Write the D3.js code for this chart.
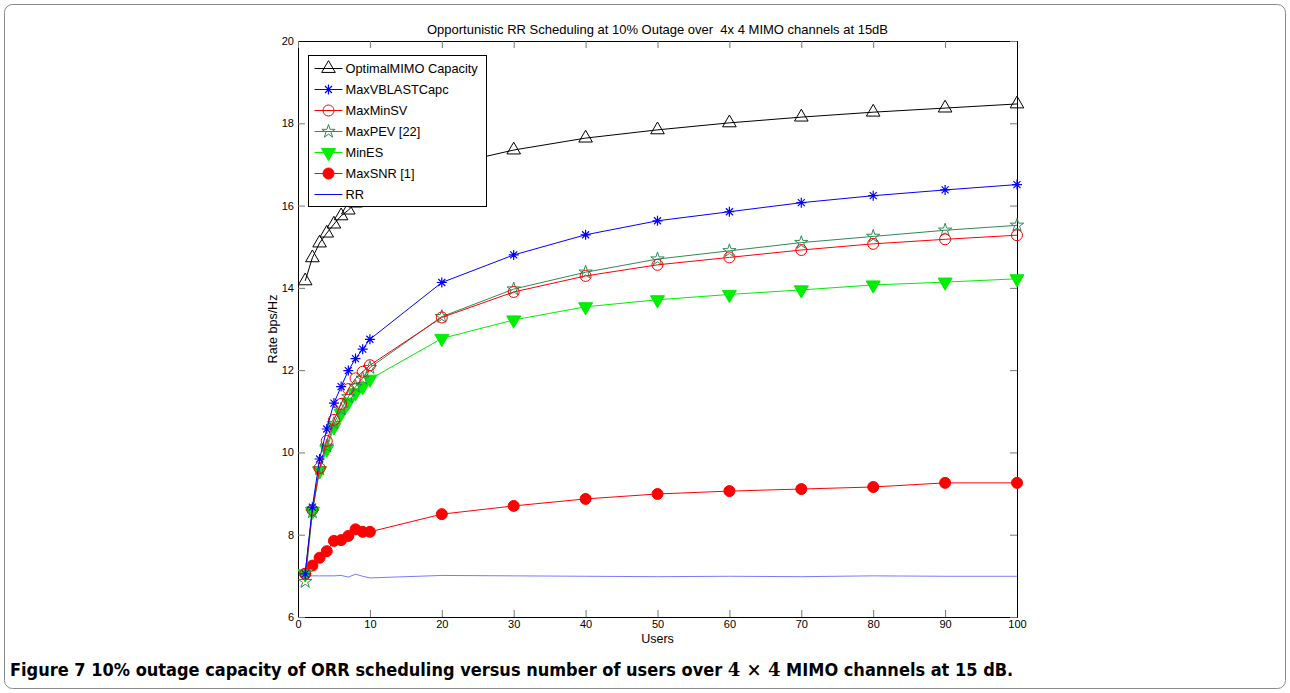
<!DOCTYPE html>
<html>
<head>
<meta charset="utf-8">
<script src="https://cdn.jsdelivr.net/npm/d3@7"></script>
<style>
body{margin:0;background:#fff;}
svg text{font-family:"Liberation Sans",Arial,sans-serif;}
</style>
</head>
<body>
<div id="graph"></div>
<script>
(function(){
"use strict";

// data
var users = [1,2,3,4,5,6,7,8,9,10,20,30,40,50,60,70,80,90,100];
var optimalMIMO = [14.17,14.73,15.09,15.33,15.55,15.75,15.89,16.06,16.18,16.26,16.95,17.35,17.64,17.84,18.01,18.15,18.27,18.37,18.47];
var maxVBLAST = [7.05,8.67,9.84,10.57,11.2,11.6,11.99,12.28,12.51,12.75,14.13,14.8,15.29,15.63,15.85,16.07,16.24,16.38,16.51];
var maxMinSV = [7.05,8.6,9.62,10.28,10.79,11.18,11.54,11.8,11.96,12.12,13.28,13.9,14.29,14.56,14.74,14.92,15.07,15.18,15.28];
var maxPEV = [6.86,8.55,9.6,10.15,10.7,11.05,11.35,11.6,11.8,12.06,13.3,13.97,14.38,14.7,14.9,15.1,15.25,15.4,15.52];
var minES = [7.05,8.57,9.55,10.08,10.62,10.95,11.22,11.45,11.6,11.78,12.77,13.22,13.54,13.71,13.84,13.95,14.07,14.14,14.22];
var maxSNR = [7.05,7.25,7.44,7.6,7.85,7.87,7.97,8.13,8.07,8.07,8.5,8.7,8.87,8.99,9.06,9.11,9.16,9.26,9.26];
var rr = [7.02,7.0,7.0,7.0,7.0,7.01,6.97,7.04,6.99,6.95,7.01,7.0,6.99,6.98,6.99,6.98,7.0,6.99,6.99];
var xTicks = [0,10,20,30,40,50,60,70,80,90,100];
var yTicks = [6,8,10,12,14,16,18,20];

var series = [
  {name:"OptimalMIMO Capacity", values:optimalMIMO, color:"#000000", marker:"triUp"},
  {name:"MaxVBLASTCapc", values:maxVBLAST, color:"#0000ff", marker:"asterisk"},
  {name:"MaxMinSV", values:maxMinSV, color:"#ff0000", marker:"circle"},
  {name:"MaxPEV [22]", values:maxPEV, color:"#2e8b57", marker:"star"},
  {name:"MinES", values:minES, color:"#00ee00", marker:"triDown"},
  {name:"MaxSNR [1]", values:maxSNR, color:"#ff0000", marker:"dot"},
  {name:"RR", values:rr, color:"#0000ff", marker:"none"}
];

var W = 1290, H = 693;
var margin = {top: 41, left: 298, right: 273, bottom: 76};
var width = W - margin.left - margin.right;
var height = H - margin.top - margin.bottom;

var svg = d3.select("#graph").append("svg")
  .attr("width", W)
  .attr("height", H);

// frame around the figure
svg.append("rect")
  .attr("x", 4.5).attr("y", 4.5)
  .attr("width", W - 9).attr("height", H - 9)
  .attr("rx", 8)
  .attr("fill", "none")
  .attr("stroke", "#8a8a8a")
  .attr("stroke-width", 1);

var g = svg.append("g")
  .attr("transform", "translate(" + margin.left + "," + margin.top + ")");

var x = d3.scaleLinear().domain([0, 100]).range([0, width]);
var y = d3.scaleLinear().domain([6, 20]).range([height, 0]);

// matlab style box with inward ticks
var xAxis = d3.axisBottom(x).tickValues(xTicks).tickSize(-7).tickPadding(3);
var yAxis = d3.axisLeft(y).tickValues(yTicks).tickSize(-7).tickPadding(4);
var xTop = d3.axisTop(x).tickValues(xTicks).tickSize(-7).tickFormat("");
var yRight = d3.axisRight(y).tickValues(yTicks).tickSize(-7).tickFormat("");

function styleAxis(sel){
  sel.select(".domain").attr("stroke", "#000");
  sel.selectAll(".tick line").attr("stroke", "#777");
  sel.selectAll("text").attr("fill", "#000").style("font-size", "11px");
}

g.append("g").attr("transform", "translate(0," + height + ")").call(xAxis).call(styleAxis);
g.append("g").call(yAxis).call(styleAxis);
g.append("g").call(xTop).call(styleAxis);
g.append("g").attr("transform", "translate(" + width + ",0)").call(yRight).call(styleAxis);

var line = d3.line()
  .x(function(d){ return x(d[0]); })
  .y(function(d){ return y(d[1]); });

function drawMarker(sel, type, color){
  if (type === "triUp") {
    sel.append("path").attr("d", d3.symbol().type(d3.symbolTriangle).size(80)())
      .attr("fill", "none").attr("stroke", color).attr("stroke-width", 1);
  } else if (type === "triDown") {
    sel.append("path").attr("d", d3.symbol().type(d3.symbolTriangle).size(85)())
      .attr("transform", "rotate(180)")
      .attr("fill", color).attr("stroke", color).attr("stroke-width", 1);
  } else if (type === "circle") {
    sel.append("circle").attr("r", 5.5)
      .attr("fill", "none").attr("stroke", color).attr("stroke-width", 1);
  } else if (type === "dot") {
    sel.append("circle").attr("r", 5.5)
      .attr("fill", color).attr("stroke", color).attr("stroke-width", 1);
  } else if (type === "star") {
    sel.append("path").attr("d", d3.symbol().type(d3.symbolStar).size(55)())
      .attr("fill", "none").attr("stroke", color).attr("stroke-width", 1);
  } else if (type === "asterisk") {
    var r = 5;
    sel.append("path")
      .attr("d", "M" + (-r) + ",0L" + r + ",0M0," + (-r) + "L0," + r +
        "M" + (-r * 0.7) + "," + (-r * 0.7) + "L" + (r * 0.7) + "," + (r * 0.7) +
        "M" + (-r * 0.7) + "," + (r * 0.7) + "L" + (r * 0.7) + "," + (-r * 0.7))
      .attr("stroke", color).attr("stroke-width", 1.2).attr("fill", "none");
  }
}

// draw RR first, underneath
var ordered = series.slice().reverse();
ordered.forEach(function(s){
  var pts = users.map(function(u, i){ return [u, s.values[i]]; });
  g.append("path")
    .datum(pts)
    .attr("d", line)
    .attr("fill", "none")
    .attr("stroke", s.marker === "none" ? "#6a6aff" : s.color)
    .attr("stroke-width", s.marker === "none" ? 0.9 : 1);
  if (s.marker !== "none") {
    g.selectAll(null)
      .data(pts)
      .enter()
      .append("g")
        .attr("transform", function(d){ return "translate(" + x(d[0]) + "," + y(d[1]) + ")"; })
        .each(function(){ drawMarker(d3.select(this), s.marker, s.color); });
  }
});

// legend
var leg = svg.append("g").attr("transform", "translate(308.5,55.5)");
leg.append("rect")
  .attr("width", 178).attr("height", 151)
  .attr("fill", "#fff").attr("stroke", "#000").attr("stroke-width", 1);
series.forEach(function(s, i){
  var row = leg.append("g").attr("transform", "translate(0," + (13 + i * 21) + ")");
  row.append("line")
    .attr("x1", 6).attr("x2", 34).attr("y1", 0).attr("y2", 0)
    .attr("stroke", s.color).attr("stroke-width", 1);
  var m = row.append("g").attr("transform", "translate(20,0)");
  drawMarker(m, s.marker, s.color);
  row.append("text")
    .attr("x", 37).attr("y", 4.5)
    .style("font-size", "12.8px")
    .text(s.name);
});

// titles
svg.append("text")
  .attr("x", margin.left + width / 2).attr("y", 34)
  .attr("text-anchor", "middle")
  .style("font-size", "13px")
  .style("white-space", "pre")
  .text("Opportunistic RR Scheduling at 10% Outage over  4x 4 MIMO channels at 15dB");

svg.append("text")
  .attr("x", margin.left + width / 2).attr("y", 643)
  .attr("text-anchor", "middle")
  .style("font-size", "12.5px")
  .text("Users");

svg.append("text")
  .attr("transform", "translate(277," + (margin.top + height / 2) + ") rotate(-90)")
  .attr("text-anchor", "middle")
  .style("font-size", "12.5px")
  .text("Rate bps/Hz");

// caption
var cap = svg.append("text")
  .attr("x", 10).attr("y", 676)
  .style("font-family", "'Liberation Sans Narrow','DejaVu Sans Condensed',sans-serif")
  .style("font-size", "18px")
  .style("font-weight", "bold");
cap.append("tspan").text("Figure 7 ");
cap.append("tspan").text("10% outage capacity of ORR scheduling versus number of users over ");
cap.append("tspan").style("font-family", "'DejaVu Serif',serif").text("4 × 4");
cap.append("tspan").text(" MIMO channels at 15 dB.");

console.log(series.length + " series drawn");
})();
</script>
</body>
</html>
